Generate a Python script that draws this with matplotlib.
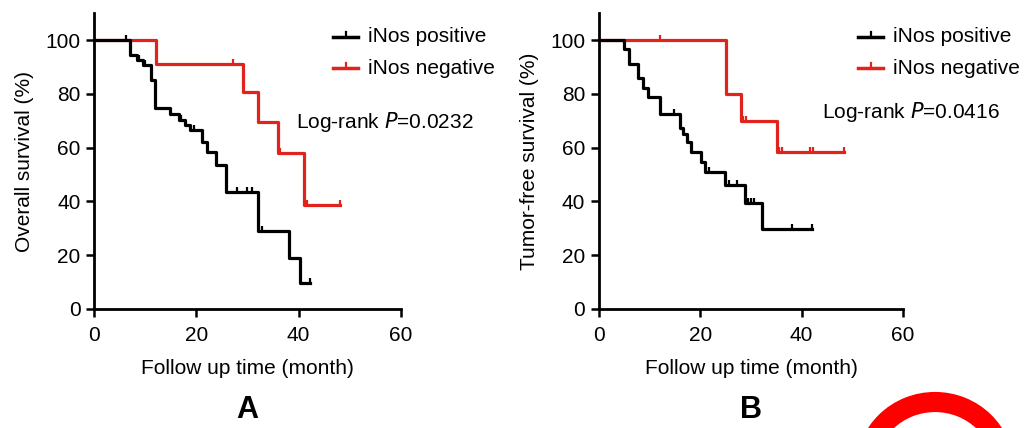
import numpy as np
import matplotlib
matplotlib.use("Agg")
import matplotlib.pyplot as plt
from matplotlib.path import Path
from matplotlib.patches import Arc

plt.rcParams['font.family'] = ['Liberation Sans', 'DejaVu Sans']

# ---------------- data ----------------
# Panel A: overall survival
a_pos_t = [0, 7.0, 8.3, 9.6, 11.1, 11.9, 14.8, 16.5, 17.8, 18.8, 21.1, 22.1, 23.8, 25.8, 32.1, 38.2, 40.2, 42.3]
a_pos_s = [100, 94.4, 92.8, 90.7, 85.1, 74.6, 72.5, 70.3, 68.4, 66.5, 62.2, 58.5, 53.5, 43.6, 29.0, 19.1, 9.6, 9.6]
a_pos_c = [6.2, 8.8, 9.9, 17.0, 19.5, 27.9, 29.9, 30.9, 32.8, 42.3]
a_neg_t = [0, 12.1, 29.1, 32.0, 35.9, 41.0, 48.2]
a_neg_s = [100, 91.0, 80.8, 69.5, 58.0, 38.7, 38.7]
a_neg_c = [27.2, 36.4, 41.6, 48.2]

# Panel B: tumor-free survival
b_pos_t = [0, 5.0, 5.9, 7.7, 8.7, 9.7, 12.0, 15.9, 16.6, 17.4, 18.2, 20.2, 20.9, 24.9, 28.8, 32.1, 42.1]
b_pos_s = [100, 96.9, 91.0, 85.8, 82.3, 78.9, 72.4, 67.5, 65.0, 62.2, 58.5, 54.6, 50.9, 46.0, 39.6, 29.7, 29.7]
b_pos_c = [14.9, 21.8, 25.6, 27.3, 29.4, 30.0, 30.6, 38.1, 42.1]
b_neg_t = [0, 25.0, 28.1, 35.1, 48.3]
b_neg_s = [100, 80.0, 70.0, 58.5, 58.5]
b_neg_c = [12.0, 28.4, 29.0, 35.6, 36.1, 41.7, 42.3, 48.3]

labels = ["iNos positive", "iNos negative"]
pvals = ["0.0232", "0.0416"]
ylabels = ["Overall survival (%)", "Tumor-free survival (%)"]
xlabel = "Follow up time (month)"
letters = ["A", "B"]
xticks = [0, 20, 40, 60]
yticks = [0, 20, 40, 60, 80, 100]

BLACK = "#000000"
RED = "#e0231d"
W, H = 1026, 428
FS = 15

def fx(x):
    return x / W

def fy(y):
    return 1 - y / H

tick_up = Path([[0, 0], [0, 1]], [Path.MOVETO, Path.LINETO])

fig = plt.figure(figsize=(W / 100, H / 100), dpi=100)

panels = [
    dict(left=94.3, right=400.7, pos=(a_pos_t, a_pos_s, a_pos_c), neg=(a_neg_t, a_neg_s, a_neg_c),
         leg_x=333, p_xy=(296, 122)),
    dict(left=599, right=903, pos=(b_pos_t, b_pos_s, b_pos_c), neg=(b_neg_t, b_neg_s, b_neg_c),
         leg_x=858, p_xy=(822, 112)),
]

y0, ytop = 309, 13.3
for i, p in enumerate(panels):
    ax = fig.add_axes([fx(p['left']), fy(y0), (p['right'] - p['left']) / W, (y0 - ytop) / H])
    ax.set_xlim(0, 60)
    ax.set_ylim(0, 110)
    for key, col, z in (('pos', BLACK, 3), ('neg', RED, 2)):
        t, s, c = p[key]
        ax.step(t, s, where='post', color=col, lw=2.3, clip_on=False, zorder=z)
        cy = [s[np.searchsorted(t, ci, side='right') - 1] for ci in c]
        ax.plot(c, cy, ls='none', marker=tick_up, ms=7, mew=1.6, color=col, clip_on=False, zorder=z)
    for side in ('top', 'right'):
        ax.spines[side].set_visible(False)
    for side in ('left', 'bottom'):
        ax.spines[side].set_linewidth(2.0)
    ax.set_xticks(xticks)
    ax.set_yticks(yticks)
    ax.tick_params(direction='out', length=6, width=1.8, labelsize=FS)
    ax.tick_params(axis='x', pad=6)
    ax.tick_params(axis='y', pad=4)
    ax.set_xlabel(xlabel, fontsize=FS, labelpad=10)
    ax.set_ylabel(ylabels[i], fontsize=FS, labelpad=8)
    ax.patch.set_alpha(0)

    # legend drawn manually
    for j, (lab, col) in enumerate(zip(labels, (BLACK, RED))):
        yy = 37 + 31 * j
        fig.add_artist(plt.Line2D([fx(p['leg_x']), fx(p['leg_x'] + 25)], [fy(yy), fy(yy)],
                                  color=col, lw=2.5, transform=fig.transFigure))
        fig.add_artist(plt.Line2D([fx(p['leg_x'] + 12.5)] * 2, [fy(yy), fy(yy - 5)],
                                  color=col, lw=1.6, transform=fig.transFigure))
        fig.text(fx(p['leg_x'] + 35), fy(yy), lab, fontsize=FS, va='center', ha='left')
    fig.text(fx(p['p_xy'][0]), fy(p['p_xy'][1]), "Log-rank $\\it{P}$=" + pvals[i],
             fontsize=FS, va='center', ha='left')
    fig.text(fx((p['left'] + p['right']) / 2), fy(410), letters[i], fontsize=22,
             fontweight='bold', ha='center', va='center')

# red arc decoration at bottom right
deco = fig.add_axes([0, 0, 1, 1])
deco.set_xlim(0, W)
deco.set_ylim(H, 0)
deco.axis('off')
deco.patch.set_alpha(0)
deco.add_patch(Arc((935, 469), 138, 134, theta1=0, theta2=360, color='#ff0000', lw=14.5))

fig.savefig("out.png", dpi=100)
